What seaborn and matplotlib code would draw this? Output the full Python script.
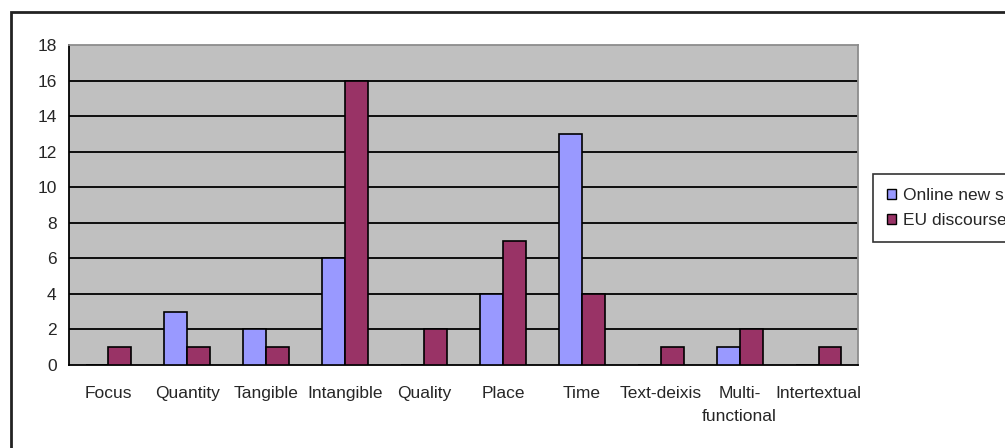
import matplotlib
matplotlib.use("Agg")
import matplotlib.pyplot as plt
from matplotlib.patches import Patch, Rectangle
import pandas as pd
import seaborn as sns

categories = ["Focus", "Quantity", "Tangible", "Intangible", "Quality", "Place",
              "Time", "Text-deixis", "Multi-\nfunctional", "Intertextual"]
online_news = [0, 3, 2, 6, 0, 4, 13, 0, 1, 0]
eu_discourse = [1, 1, 1, 16, 2, 7, 4, 1, 2, 1]
series_names = ["Online new s", "EU discourse"]
colors = ["#9999FF", "#993366"]
y_ticks = list(range(0, 19, 2))

sns.set_style("white")
plt.rcParams["font.family"] = ["Liberation Sans", "DejaVu Sans"]
FS = 12.5

df = pd.DataFrame({
    "category": categories * 2,
    "count": online_news + eu_discourse,
    "series": [series_names[0]] * len(categories) + [series_names[1]] * len(categories),
})

fig = plt.figure(figsize=(10.05, 4.48), dpi=100)
ax = fig.add_axes([69 / 1005, 1 - 365 / 448, (858 - 69) / 1005, (365 - 45) / 448])
ax.set_facecolor("#C0C0C0")

sns.barplot(data=df, x="category", y="count", hue="series", order=categories,
            hue_order=series_names, palette=colors, saturation=1, width=0.58, gap=0,
            edgecolor="black", linewidth=1.2, ax=ax, legend=False, zorder=3)

ax.set_xlim(-0.5, len(categories) - 0.5)
ax.set_ylim(0, 18)
ax.set_yticks(y_ticks)
for y in y_ticks[1:-1]:
    ax.axhline(y, color="black", lw=1.3, zorder=1)

# category boundaries carry the tick marks, names sit between them
ax.set_xticks([i - 0.5 for i in range(len(categories) + 1)])
ax.set_xticklabels([])
ax.set_xticks(range(len(categories)), minor=True)
ax.set_xticklabels(categories, minor=True, fontsize=FS, linespacing=1.7, va="top")
ax.tick_params(axis="x", which="major", direction="out", length=5, width=1.2, color="black")
ax.tick_params(axis="x", which="minor", length=0, pad=15)
ax.tick_params(axis="y", direction="out", length=5, width=1.2, color="black",
               labelsize=FS, pad=4)
ax.set_xlabel("")
ax.set_ylabel("")

for side in ("left", "bottom"):
    ax.spines[side].set_color("black")
    ax.spines[side].set_linewidth(1.3)
for side in ("top", "right"):
    ax.spines[side].set_color("#8C8C8C")
    ax.spines[side].set_linewidth(1.3)

handles = [Patch(facecolor=c, edgecolor="black", linewidth=1.0) for c in colors]
leg = fig.legend(handles, series_names, loc="upper left",
                 bbox_to_anchor=(873 / 1005, 1 - 174 / 448),
                 frameon=True, fancybox=False, edgecolor="black", fontsize=FS,
                 handlelength=0.55, handleheight=0.55, handletextpad=0.35,
                 labelspacing=0.6, borderpad=0.8, borderaxespad=0)
leg.get_frame().set_linewidth(1.2)

# outer chart border
fig.patches.append(Rectangle((11 / 1005, -0.2), 2, 1 - 12 / 448 + 0.2,
                             transform=fig.transFigure, fill=False,
                             edgecolor="#222222", linewidth=2))

fig.savefig("out.png", dpi=100, facecolor="white")
